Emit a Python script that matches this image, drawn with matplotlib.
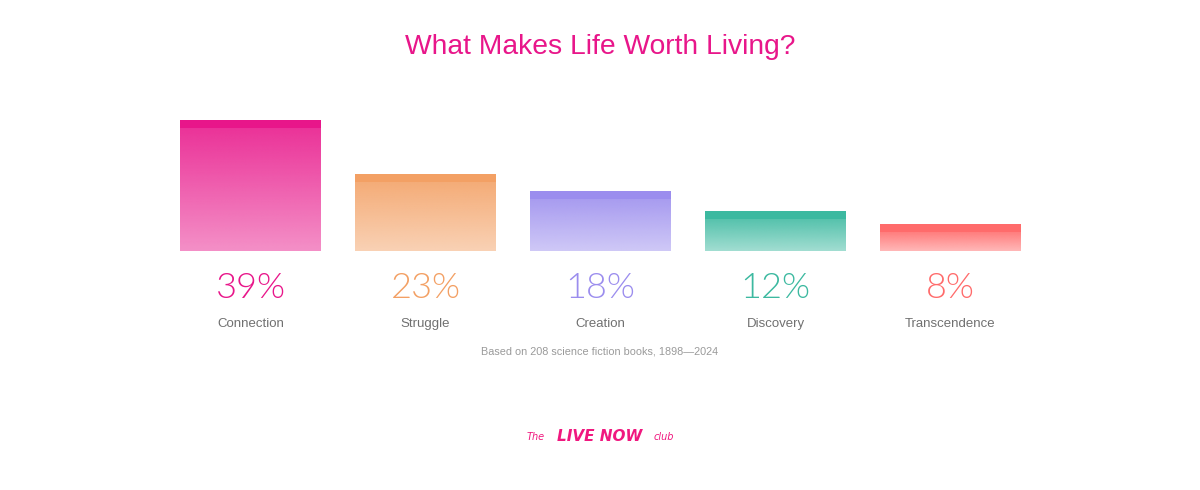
import numpy as np
import matplotlib
matplotlib.use("Agg")
import matplotlib.pyplot as plt
from matplotlib.colors import to_rgb
from matplotlib.transforms import blended_transform_factory

categories = ["Connection", "Struggle", "Creation", "Discovery", "Transcendence"]
values = [39, 23, 18, 12, 8]
value_labels = ["39%", "23%", "18%", "12%", "8%"]
colors = ["#E8168A", "#F3A064", "#9B8DEE", "#3CB9A0", "#FF6B6B"]
title = "What Makes Life Worth Living?"
footnote = "Based on 208 science fiction books, 1898\u20142024"

W, H = 1200, 490
fig = plt.figure(figsize=(W / 100, H / 100), dpi=100)
fig.patch.set_facecolor("white")

# axes in pixel geometry
ax_left, ax_bottom, ax_w, ax_h = 163, 239, 875, 134.4
ax = fig.add_axes([ax_left / W, ax_bottom / H, ax_w / W, ax_h / H])
ax.set_xlim(-0.5, len(values) - 0.5)
ax.set_ylim(0, 40)
ax.axis("off")

bar_w = 141 / 175
stripe = 8 / 3.36  # solid top band height in data units

x = np.arange(len(values))
for i, (v, c) in enumerate(zip(values, colors)):
    rgb = to_rgb(c)
    n = 256
    alpha = np.linspace(0.88, 0.48, n)  # top -> bottom
    img = np.zeros((n, 2, 4))
    img[..., 0] = rgb[0]
    img[..., 1] = rgb[1]
    img[..., 2] = rgb[2]
    img[..., 3] = alpha[:, None]
    ax.imshow(img, extent=(x[i] - bar_w / 2, x[i] + bar_w / 2, 0, v - stripe),
              aspect="auto", interpolation="bilinear", zorder=1)
    ax.bar(x[i], stripe, bottom=v - stripe, width=bar_w, color=c,
           linewidth=0, zorder=2)

ax.set_xlim(-0.5, len(values) - 0.5)
ax.set_ylim(0, 40)

tr = blended_transform_factory(ax.transData, fig.transFigure)
for i, (lab, cat, c) in enumerate(zip(value_labels, categories, colors)):
    ax.text(x[i], 1 - 288 / H, lab, transform=tr, ha="center", va="center",
            fontsize=26, color=c, family=["Lato", "Liberation Sans", "DejaVu Sans"],
            fontweight=300)
    ax.text(x[i], 1 - 324 / H, cat, transform=tr, ha="center", va="center",
            fontsize=9.5, color="#707070", family=["Liberation Sans", "DejaVu Sans"])

fig.text(0.5, 1 - 47 / H, title, ha="center", va="center", fontsize=20.3,
         color="#E8168A", family=["Liberation Sans", "DejaVu Sans"])
fig.text(0.5, 1 - 352 / H, footnote, ha="center", va="center", fontsize=7.8,
         color="#9a9a9a", family=["Liberation Sans", "DejaVu Sans"])

# logo
logo_c = "#F0187F"
fig.text(536 / W, 1 - 437 / H, "The", ha="center", va="center", fontsize=7,
         color=logo_c, style="italic", family=["DejaVu Sans"])
fig.text(600 / W, 1 - 436 / H, "LIVE NOW", ha="center", va="center", fontsize=11,
         color=logo_c, fontweight="bold", style="italic", family=["DejaVu Sans"])
fig.text(664 / W, 1 - 437 / H, "club", ha="center", va="center", fontsize=7,
         color=logo_c, style="italic", family=["DejaVu Sans"])

fig.savefig("out.png", dpi=100, facecolor="white")
